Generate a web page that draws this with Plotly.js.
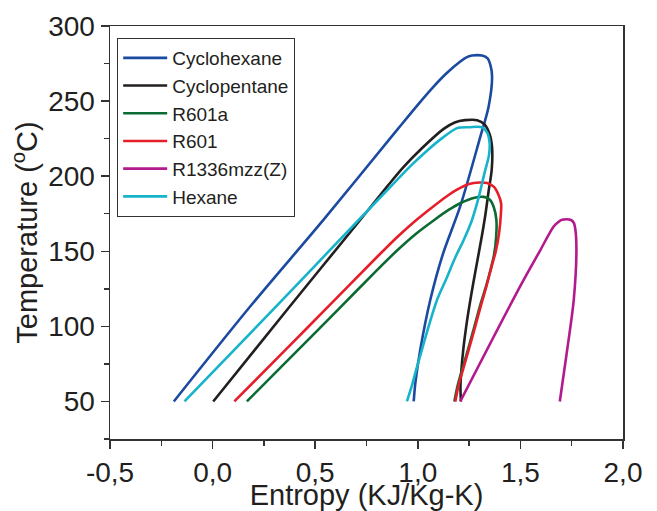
<!DOCTYPE html>
<html>
<head>
<meta charset="utf-8">
<script src="https://cdn.plot.ly/plotly-3.0.1.min.js"></script>
<style>html,body{margin:0;padding:0;background:#fff;}#chart{width:657px;height:511px;}</style>
</head>
<body>
<div id="chart"></div>
<script>
// Series names
const seriesNames = ["Cyclohexane", "Cyclopentane", "R601a", "R601", "R1336mzz(Z)", "Hexane"];

// Cyclohexane (entropy, temperature)
const cyclohexaneS = [-0.189, 0.183, 0.540, 0.899, 1.000, 1.077, 1.140, 1.207, 1.235, 1.264, 1.313, 1.340, 1.354, 1.362, 1.345, 1.300, 1.207, 1.122, 1.061, 1.012, 0.988, 0.980];
const cyclohexaneT = [50, 113.2, 170.9, 230.8, 247.5, 259.6, 268.5, 276.3, 279, 280.3, 280.3, 278.5, 274, 266.3, 246.3, 224, 180, 148, 117.7, 84.4, 62.3, 50];

// Cyclopentane
const cyclopentaneS = [0.003, 0.370, 0.720, 0.850, 0.930, 1.020, 1.126, 1.180, 1.230, 1.289, 1.325, 1.350, 1.362, 1.360, 1.345, 1.330, 1.312, 1.292, 1.272, 1.253, 1.236, 1.222, 1.212, 1.208, 1.210];
const cyclopentaneT = [50, 112.2, 171, 193, 206, 218.6, 231.5, 235.8, 237.3, 237.3, 234.5, 228, 219, 204, 190, 175, 160, 145, 130, 115, 100, 85, 70, 60, 50];

// R601a
const r601aS = [0.167, 0.378, 0.614, 0.800, 0.899, 0.990, 1.077, 1.150, 1.207, 1.272, 1.321, 1.350, 1.370, 1.383, 1.382, 1.372, 1.355, 1.331, 1.306, 1.276, 1.244, 1.218, 1.195, 1.178];
const r601aT = [50, 79, 111.5, 137.3, 150.5, 161.5, 170.5, 177.5, 182, 185.5, 186.2, 184.5, 179.5, 170.9, 160, 148, 138, 126, 115, 100, 84.4, 72, 61, 50];

// R601
const r601S = [0.106, 0.378, 0.557, 0.800, 0.900, 0.990, 1.077, 1.140, 1.191, 1.250, 1.300, 1.338, 1.370, 1.392, 1.406, 1.405, 1.396, 1.380, 1.360, 1.335, 1.310, 1.280, 1.248, 1.222, 1.199, 1.183];
const r601T = [50, 87.5, 112.3, 146, 159.5, 170.5, 180, 186.5, 191, 194.8, 195.8, 195.5, 193, 188, 182, 175, 162, 150, 140, 127, 115, 100, 84.4, 72, 61, 50];

// R1336mzz(Z)
const r1336S = [1.207, 1.500, 1.598, 1.662, 1.685, 1.703, 1.744, 1.760, 1.768, 1.773, 1.760, 1.728, 1.692];
const r1336T = [50, 127, 151, 166.5, 169.5, 171, 171, 169, 164.3, 151, 117.7, 84.4, 50];

// Hexane
const hexaneS = [-0.137, 0.297, 0.720, 0.899, 0.970, 1.045, 1.120, 1.191, 1.250, 1.313, 1.338, 1.350, 1.347, 1.325, 1.295, 1.262, 1.222, 1.183, 1.140, 1.094, 1.055, 1.020, 0.990, 0.970, 0.947];
const hexaneT = [50, 111.5, 172, 197.5, 207.5, 217, 225.5, 232, 232.6, 232.6, 229, 222, 214, 202, 185, 170, 157, 146, 132, 117.7, 101, 84.4, 70, 60, 50];

// Tick labels
const xTickVals = [-0.5, 0.0, 0.5, 1.0, 1.5, 2.0];
const xTickText = ["-0,5", "0,0", "0,5", "1,0", "1,5", "2,0"];
const yTickVals = [50, 100, 150, 200, 250, 300];
const yTickText = ["50", "100", "150", "200", "250", "300"];

const colors = ["#1b4ba0", "#231f20", "#0b6b32", "#e51e2a", "#b31a8e", "#17b3cb"];
const xs = [cyclohexaneS, cyclopentaneS, r601aS, r601S, r1336S, hexaneS];
const ys = [cyclohexaneT, cyclopentaneT, r601aT, r601T, r1336T, hexaneT];

const traces = seriesNames.map((n, i) => ({
  type: "scatter", mode: "lines", name: n,
  x: xs[i], y: ys[i],
  line: {color: colors[i], width: 2.6, shape: "spline", smoothing: 0.8}
}));

const family = "Liberation Sans, Arial, sans-serif";
const tickFont = {family: family, size: 28, color: "#231f20"};
const titleFont = {family: family, size: 29, color: "#231f20"};

const layout = {
  width: 657, height: 511,
  margin: {l: 110, r: 34, t: 26, b: 72},
  paper_bgcolor: "#fff", plot_bgcolor: "#fff",
  font: tickFont,
  showlegend: true,
  legend: {
    x: 0.014, y: 0.971, xanchor: "left", yanchor: "top",
    bgcolor: "#fff", bordercolor: "#333", borderwidth: 1,
    font: {family: family, size: 19, color: "#231f20"},
    itemwidth: 44, tracegroupgap: 0
  },
  xaxis: {
    range: [-0.5, 2.0], tickmode: "array", tickvals: xTickVals, ticktext: xTickText,
    showgrid: false, zeroline: false,
    showline: true, linecolor: "#333", linewidth: 1.5, mirror: true,
    ticks: "outside", ticklen: 8, tickwidth: 1.5, tickcolor: "#333",
    minor: {dtick: 0.25, ticks: "outside", ticklen: 5, tickwidth: 1.5, tickcolor: "#333", showgrid: false},
    tickfont: tickFont,
    title: {text: "Entropy (KJ/Kg-K)", font: titleFont, standoff: 3}
  },
  yaxis: {
    range: [25, 300], tickmode: "array", tickvals: yTickVals, ticktext: yTickText,
    showgrid: false, zeroline: false,
    showline: true, linecolor: "#333", linewidth: 1.5, mirror: true,
    ticks: "outside", ticklen: 8, tickwidth: 1.5, tickcolor: "#333",
    minor: {dtick: 25, ticks: "outside", ticklen: 5, tickwidth: 1.5, tickcolor: "#333", showgrid: false},
    tickfont: tickFont,
    title: {text: "Temperature (<sup>o</sup>C)", font: titleFont, standoff: 2}
  }
};

Plotly.newPlot("chart", traces, layout, {displayModeBar: false, staticPlot: true});
</script>
</body>
</html>
